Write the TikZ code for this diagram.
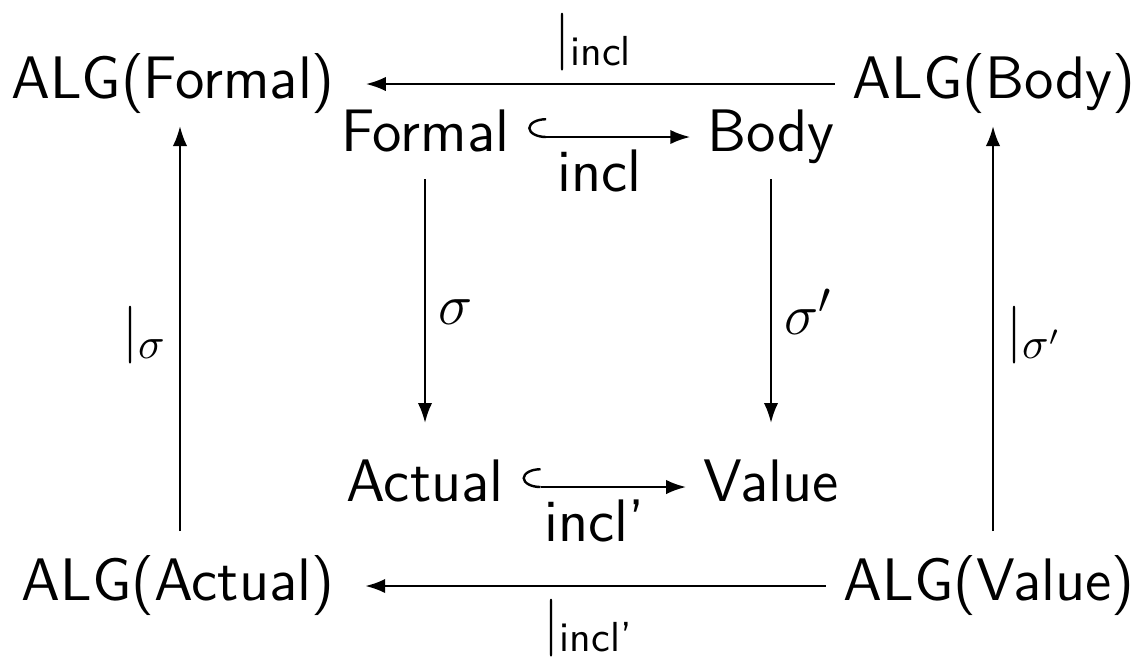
\documentclass[tikz,border=0pt]{standalone}
\usepackage{amsmath}
\usepackage{tikz}
\usetikzlibrary{arrows.meta}

\begin{document}
\begin{tikzpicture}[x=0.25pt, y=-0.25pt, >={Latex[length=5pt, width=3.6pt]}, line width=0.6pt,
    obj/.style={font=\sffamily\fontsize{15}{18}\selectfont, inner sep=3pt, text height=10.8pt, text depth=3.6pt},
    lbl/.style={font=\sffamily\fontsize{15}{18}\selectfont, inner sep=3pt},
    hook/.style={{Hooks[right, width=9.5pt, length=4.5pt]}->, shorten <=1.5pt, shorten >=1pt}]

\useasboundingbox (0, 0) rectangle (1142, 657);

% Algebras
\node[obj] (algformal) at (173, 84) {ALG(Formal)};
\node[obj] (algbody) at (994, 84) {ALG(Body)};
\node[obj] (algactual) at (178, 586) {ALG(Actual)};
\node[obj] (algvalue) at (989, 586) {ALG(Value)};

% Signatures
\node[obj] (formal) at (425, 137) {Formal};
\node[obj] (body) at (771, 137) {Body};
\node[obj] (actual) at (425, 487) {Actual};
\node[obj] (value) at (771, 487) {Value};

% Restrictions
\draw[->, shorten >=4.5pt, shorten <=1.2pt] (algbody) -- node[lbl, above] {$|_{\textsf{incl}}$} (algformal);
\draw[->, shorten >=4.5pt, shorten <=1.2pt] (algvalue) -- node[lbl, below] {$|_{\textsf{incl'}}$} (algactual);
\draw[->, shorten <=3.2pt] ([xshift=0.5pt]algactual.north) -- node[lbl, left] {$|_\sigma$} ([xshift=1.75pt]algformal.south);
\draw[->, shorten <=3.2pt] ([xshift=1pt]algvalue.north) -- node[lbl, right] {$|_{\sigma'}$} ([xshift=-0.25pt]algbody.south);

% Inclusions
\draw[hook] (formal) -- node[lbl, below, pos=0.45] {incl} (body);
\draw[hook] (actual) -- node[lbl, below, pos=0.45] {incl'} (value);

% Substitutions
\draw[->, shorten >=5.5pt] (formal) -- node[lbl, right] {$\sigma$} (actual);
\draw[->, shorten >=5.5pt] (body) -- node[lbl, right] {$\sigma'$} (value);

\end{tikzpicture}
\end{document}
